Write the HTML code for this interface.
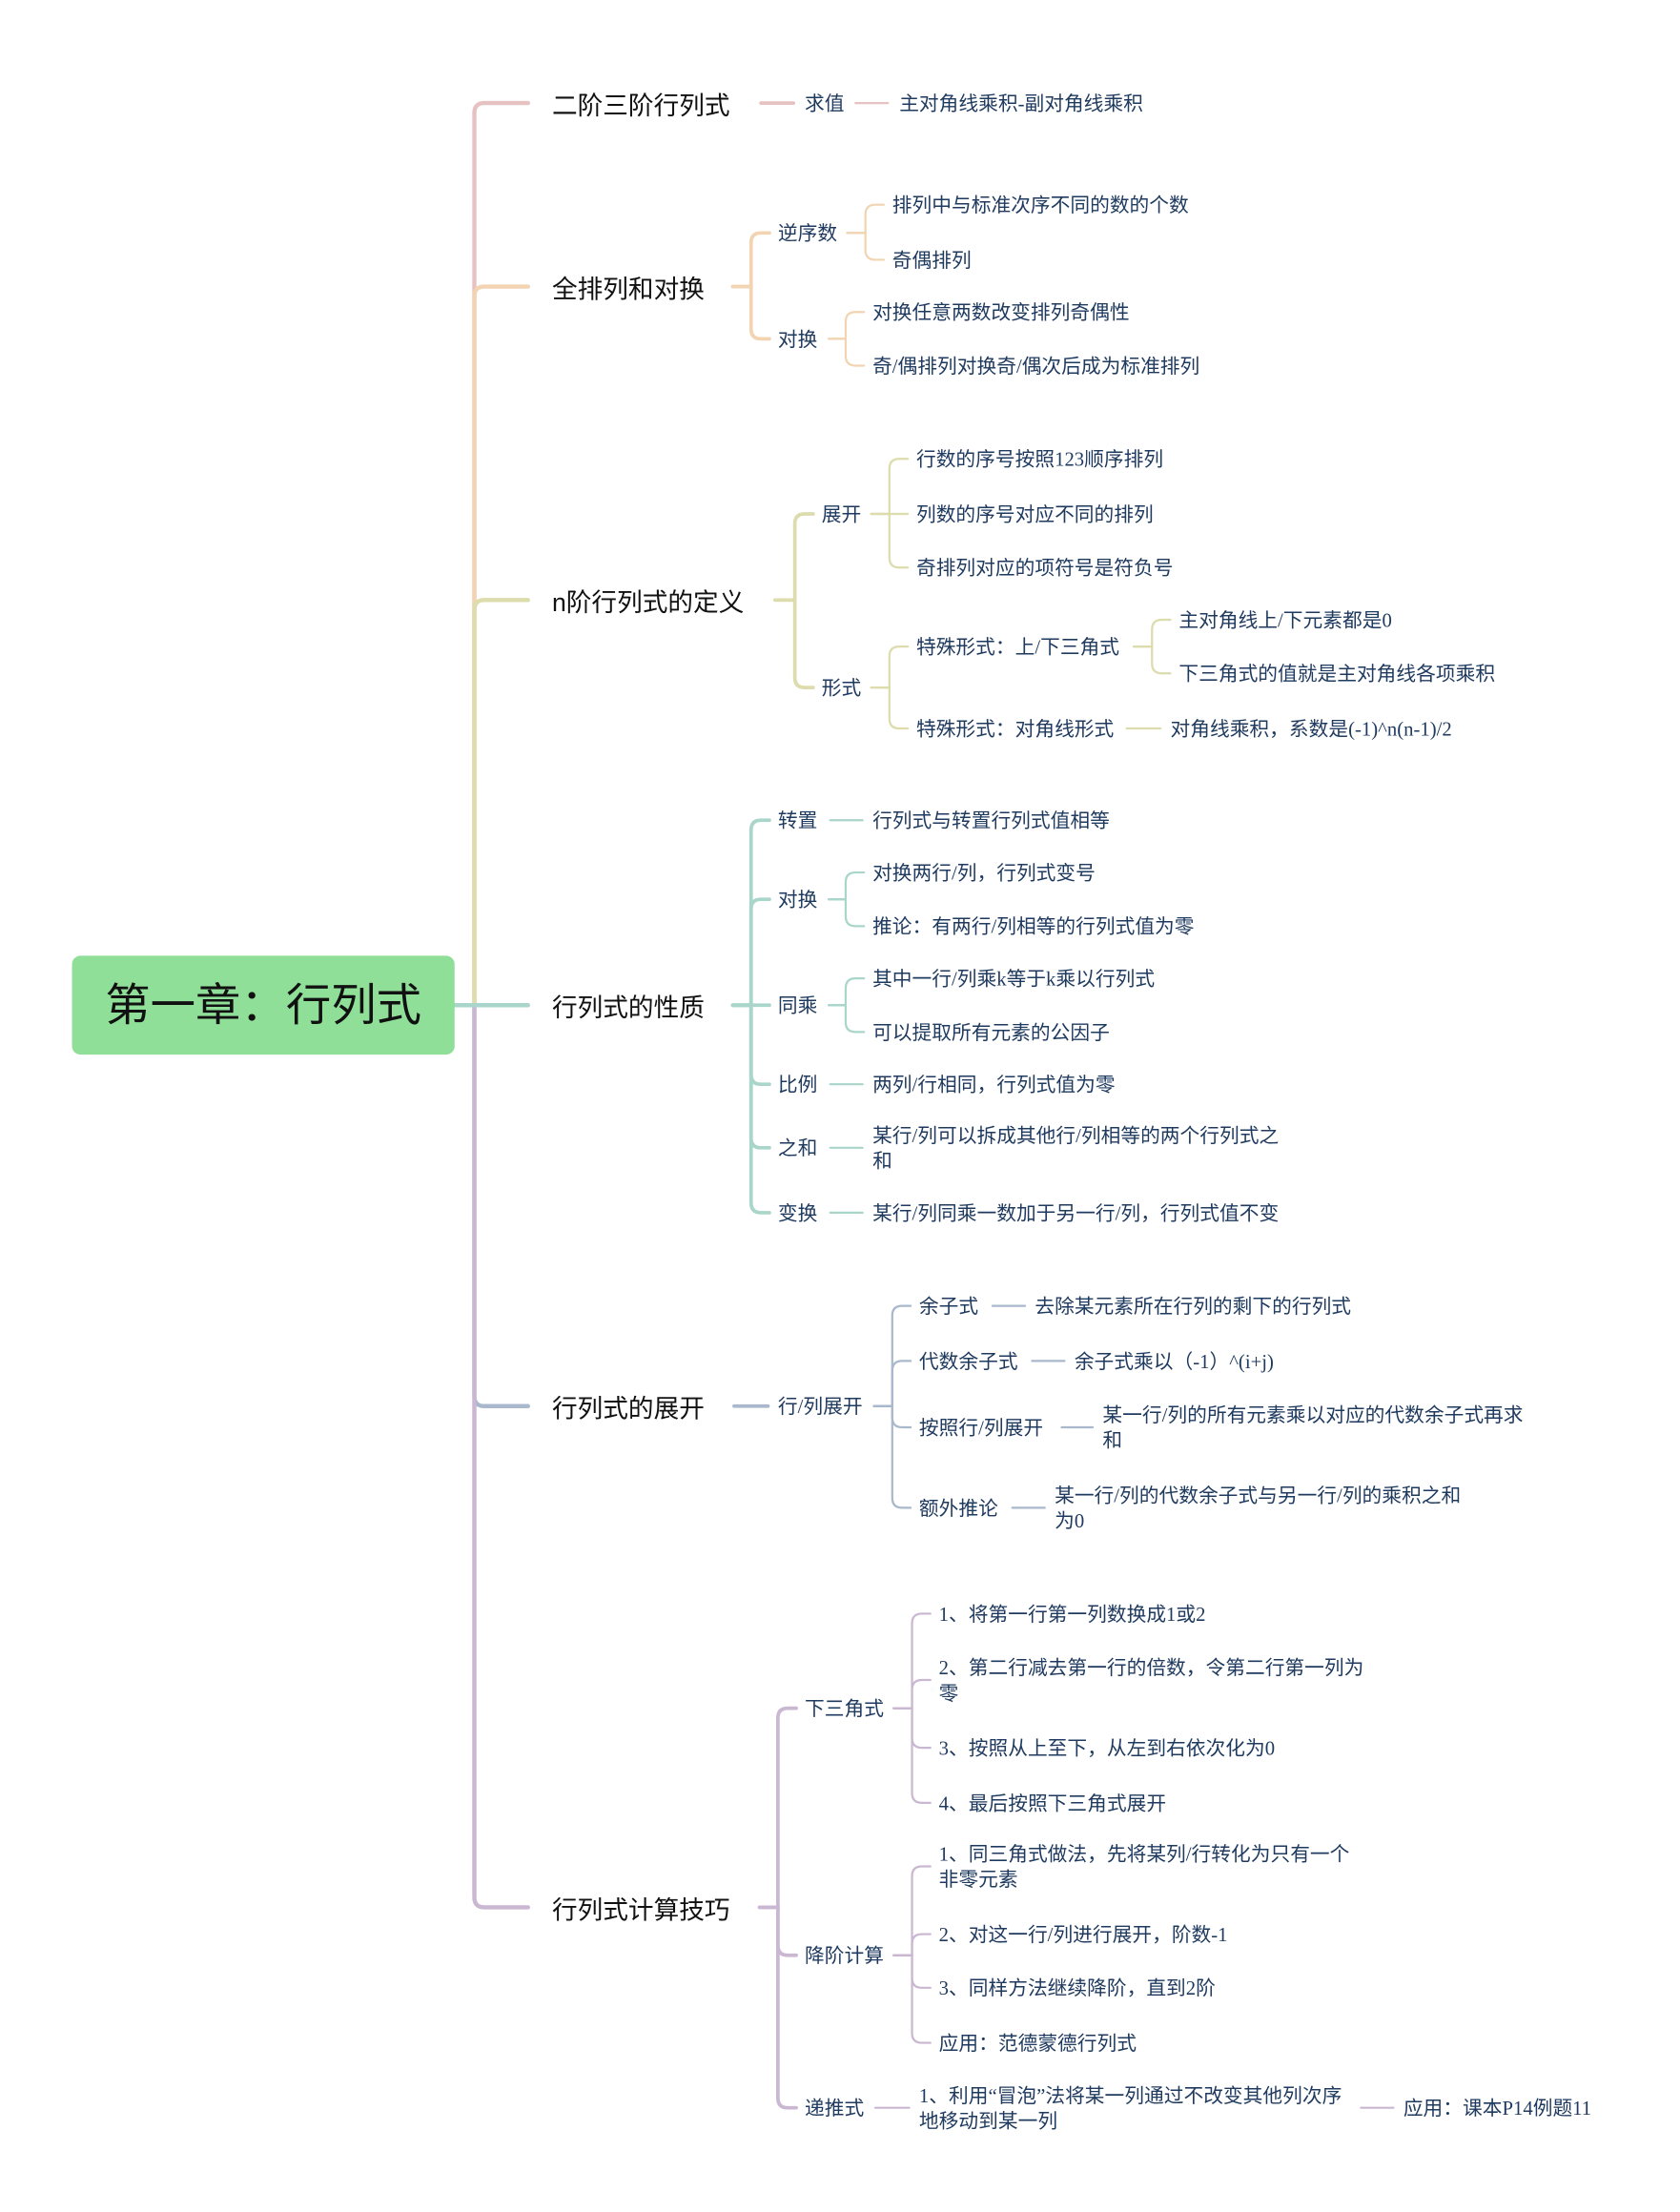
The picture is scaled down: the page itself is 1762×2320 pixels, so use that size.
<!DOCTYPE html>
<html><head><meta charset="utf-8">
<style>
html,body{margin:0;padding:0;background:#fff;}
body{width:1762px;height:2320px;overflow:hidden;position:relative;}
#w{position:absolute;left:0;top:0;width:1190px;height:1567px;transform:scale(1.4807);transform-origin:0 0;}
svg{position:absolute;left:0;top:0;}
.t{position:absolute;white-space:nowrap;font-family:"Liberation Serif","Noto Sans CJK SC",sans-serif;font-size:14px;color:#1f3a5f;line-height:18px;margin-top:1.5px;}
.h{font-family:"Liberation Sans","Noto Sans CJK SC",sans-serif;font-size:18px;color:#111;line-height:24px;}
#root{position:absolute;left:51px;top:677px;width:271px;height:70px;background:#8fdf98;border-radius:6px;font-family:"Liberation Sans","Noto Sans CJK SC",sans-serif;font-size:32px;color:#111;text-align:center;line-height:70px;}
</style></head><body><div id="w">
<svg id="s" width="1190" height="1567"></svg>
<div id="root">第一章：行列式</div>

<div class="t h" style="left:391px;top:61px">二阶三阶行列式</div>
<div class="t" style="left:570px;top:64px">求值</div>
<div class="t" style="left:637px;top:64px">主对角线乘积-副对角线乘积</div>

<div class="t h" style="left:391px;top:191px">全排列和对换</div>
<div class="t" style="left:551px;top:156px">逆序数</div>
<div class="t" style="left:551px;top:231px">对换</div>
<div class="t" style="left:632px;top:136px">排列中与标准次序不同的数的个数</div>
<div class="t" style="left:632px;top:175px">奇偶排列</div>
<div class="t" style="left:618px;top:212px">对换任意两数改变排列奇偶性</div>
<div class="t" style="left:618px;top:250px">奇/偶排列对换奇/偶次后成为标准排列</div>

<div class="t h" style="left:391px;top:413px">n阶行列式的定义</div>
<div class="t" style="left:582px;top:355px">展开</div>
<div class="t" style="left:582px;top:478px">形式</div>
<div class="t" style="left:649px;top:316px">行数的序号按照123顺序排列</div>
<div class="t" style="left:649px;top:355px">列数的序号对应不同的排列</div>
<div class="t" style="left:649px;top:393px">奇排列对应的项符号是符负号</div>
<div class="t" style="left:649px;top:449px">特殊形式：上/下三角式</div>
<div class="t" style="left:649px;top:507px">特殊形式：对角线形式</div>
<div class="t" style="left:835px;top:430px">主对角线上/下元素都是0</div>
<div class="t" style="left:835px;top:468px">下三角式的值就是主对角线各项乘积</div>
<div class="t" style="left:829px;top:507px">对角线乘积，系数是(-1)^n(n-1)/2</div>

<div class="t h" style="left:391px;top:700px">行列式的性质</div>
<div class="t" style="left:551px;top:572px">转置</div>
<div class="t" style="left:551px;top:628px">对换</div>
<div class="t" style="left:551px;top:703px">同乘</div>
<div class="t" style="left:551px;top:759px">比例</div>
<div class="t" style="left:551px;top:804px">之和</div>
<div class="t" style="left:551px;top:850px">变换</div>
<div class="t" style="left:618px;top:572px">行列式与转置行列式值相等</div>
<div class="t" style="left:618px;top:609px">对换两行/列，行列式变号</div>
<div class="t" style="left:618px;top:647px">推论：有两行/列相等的行列式值为零</div>
<div class="t" style="left:618px;top:684px">其中一行/列乘k等于k乘以行列式</div>
<div class="t" style="left:618px;top:722px">可以提取所有元素的公因子</div>
<div class="t" style="left:618px;top:759px">两列/行相同，行列式值为零</div>
<div class="t" style="left:618px;top:795px">某行/列可以拆成其他行/列相等的两个行列式之<br>和</div>
<div class="t" style="left:618px;top:850px">某行/列同乘一数加于另一行/列，行列式值不变</div>

<div class="t h" style="left:391px;top:984px">行列式的展开</div>
<div class="t" style="left:551px;top:987px">行/列展开</div>
<div class="t" style="left:651px;top:916px">余子式</div>
<div class="t" style="left:651px;top:955px">代数余子式</div>
<div class="t" style="left:651px;top:1002px">按照行/列展开</div>
<div class="t" style="left:651px;top:1059px">额外推论</div>
<div class="t" style="left:733px;top:916px">去除某元素所在行列的剩下的行列式</div>
<div class="t" style="left:761px;top:955px">余子式乘以（-1）^(i+j)</div>
<div class="t" style="left:781px;top:993px">某一行/列的所有元素乘以对应的代数余子式再求<br>和</div>
<div class="t" style="left:747px;top:1050px">某一行/列的代数余子式与另一行/列的乘积之和<br>为0</div>

<div class="t h" style="left:391px;top:1339px">行列式计算技巧</div>
<div class="t" style="left:570px;top:1201px">下三角式</div>
<div class="t" style="left:570px;top:1376px">降阶计算</div>
<div class="t" style="left:570px;top:1484px">递推式</div>
<div class="t" style="left:665px;top:1134px">1、将第一行第一列数换成1或2</div>
<div class="t" style="left:665px;top:1172px">2、第二行减去第一行的倍数，令第二行第一列为<br>零</div>
<div class="t" style="left:665px;top:1229px">3、按照从上至下，从左到右依次化为0</div>
<div class="t" style="left:665px;top:1268px">4、最后按照下三角式展开</div>
<div class="t" style="left:665px;top:1304px">1、同三角式做法，先将某列/行转化为只有一个<br>非零元素</div>
<div class="t" style="left:665px;top:1361px">2、对这一行/列进行展开，阶数-1</div>
<div class="t" style="left:665px;top:1399px">3、同样方法继续降阶，直到2阶</div>
<div class="t" style="left:665px;top:1438px">应用：范德蒙德行列式</div>
<div class="t" style="left:651px;top:1475px">1、利用“冒泡”法将某一列通过不改变其他列次序<br>地移动到某一列</div>
<div class="t" style="left:994px;top:1484px">应用：课本P14例题11</div>
</div>
<script>
var s=document.getElementById('s'),NS='http://www.w3.org/2000/svg';
function p(d,c,w){var e=document.createElementNS(NS,'path');e.setAttribute('d',d);e.setAttribute('stroke',c);e.setAttribute('stroke-width',w);e.setAttribute('fill','none');e.setAttribute('stroke-linecap','round');s.appendChild(e);}
function br(xs,py,x,ys,xe,c,w){var r=7;ys.forEach(function(y){var d;if(Math.abs(y-py)<1)d='M'+xs+','+py+'H'+xe;else{var sg=y<py?1:-1;d='M'+xs+','+py+'H'+x+'V'+(y+sg*r)+'Q'+x+','+y+' '+(x+r)+','+y+'H'+xe;}p(d,c,w);});}
function ln(a,b,y,c,w){p('M'+a+','+y+'H'+b,c,w);}
var P='#e6c2c2',O='#f2d4b2',Y='#dcdcad',T='#a9d5ca',B='#a9b8cc',U='#cab7d1';
// trunk
br(322,712,336,[73],374,P,3);br(322,712,336,[203],374,O,3);br(322,712,336,[425],374,Y,3);
br(322,712,336,[996],374,B,3);br(322,712,336,[1351],374,U,3);br(322,712,336,[712],374,T,3);
// b1
ln(539,562,73,P,2.5);ln(606,629,73,P,1.5);
// b2
br(519,203,532,[165,240],545,O,2.5);br(600,165,613,[145,184],626,O,1.5);br(587,240,599,[221,259],612,O,1.5);
// b3
br(549,425,563,[364,487],576,Y,2.5);br(617,364,630,[325,364,402],643,Y,1.5);br(617,487,630,[458,516],643,Y,1.5);
br(803,458,816,[439,477],829,Y,1.5);ln(798,822,516,Y,1.5);
// b4
br(519,712,532,[581,637,712,768,813,859],545,T,2.5);
ln(588,611,581,T,1.5);br(587,637,599,[618,656],612,T,1.5);br(587,712,599,[693,731],612,T,1.5);
ln(588,611,768,T,1.5);ln(588,611,813,T,1.5);ln(588,611,859,T,1.5);
// b5
ln(520,544,996,B,2.5);br(619,996,632,[925,964,1011,1068],645,B,1.5);
ln(703,726,925,B,1.5);ln(731,754,964,B,1.5);ln(752,774,1011,B,1.5);ln(717,740,1068,B,1.5);
// b6
br(538,1351,551,[1210,1385,1493],564,U,2.5);
br(633,1210,646,[1143,1190,1238,1277],659,U,1.5);br(633,1385,646,[1322,1370,1408,1447],659,U,1.5);
ln(620,644,1493,U,1.5);ln(964,987,1493,U,1.5);
</script>
</body></html>
